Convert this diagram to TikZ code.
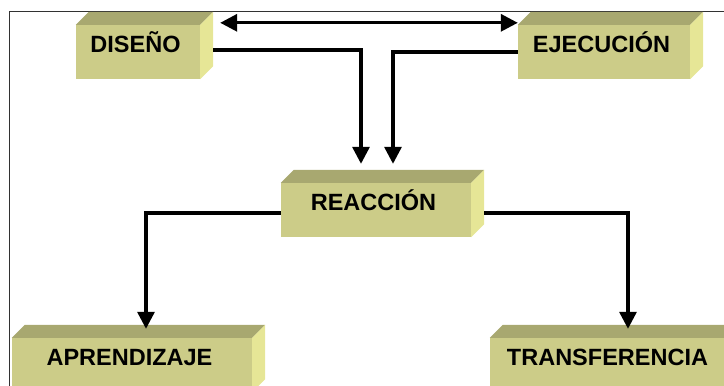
\documentclass[tikz,border=0pt]{standalone}
\usepackage{fontspec}
\setmainfont{Liberation Sans}
\usepackage{tikz}
\usetikzlibrary{positioning}
\usetikzlibrary{arrows.meta}
\usetikzlibrary{calc}
\definecolor{cajafrente}{RGB}{204,204,136}
\definecolor{cajatapa}{RGB}{168,168,112}
\definecolor{cajalado}{RGB}{230,230,150}
\definecolor{marco}{RGB}{50,50,50}

\begin{document}
\begin{tikzpicture}[x=1pt,y=-1pt]
	\useasboundingbox (0,0) rectangle (724,386);
	\clip (0,0) rectangle (724,386);
	\draw[marco, line width=1.5pt] (9.5,400) |- (740,11.5);

	\begin{scope}[every node/.style={fill=cajafrente, inner sep=0pt, minimum height=54pt,
	              text height=27.3pt, text depth=26.7pt,
	              font=\fontsize{23.5}{27}\selectfont\bfseries,
	              execute at begin node={\hspace*{-5pt}}}]
	    \node (dis) [minimum width=124pt] at (138,52) {DISEÑO};
	    \node (eje) [minimum width=172pt] at (604,52) {EJECUCIÓN};
	    \node (rea) [minimum width=190pt] at (376,210) {REACCIÓN};
	    \node (apr) [minimum width=240pt] at (132,365) {APRENDIZAJE};
	    \node (tra) [minimum width=240pt] at (610,365) {TRANSFERENCIA};
	\end{scope}

	% caras de arriba y del lado
	\foreach \n in {dis,eje,rea,apr,tra} {
	    \fill[cajatapa] (\n.north west) -- (\n.north east) -- ++(13,-13)
	        -- ([shift={(13,-13)}]\n.north west) -- cycle;
	    \fill[cajalado] (\n.north east) -- (\n.south east) -- ++(13,-13)
	        -- ([shift={(13,-13)}]\n.north east) -- cycle;
	}

	\begin{scope}[line width=3.2pt, >={Triangle[length=17pt,width=17pt]}]
	    \draw [<->] ([shift={(20,-2)}]dis.north east) -- ([shift={(0,-2)}]eje.north west);
	    \draw [->] ([shift={(13,-2)}]dis.east) -| ([shift={(-15,-19)}]rea.north);
	    \draw [->] (eje.west) -| ([shift={(17,-19)}]rea.north);
	    \draw [->] ([shift={(0,3)}]rea.west) -| ([shift={(14,-9)}]apr.north);
	    \draw [->] ([shift={(13,3)}]rea.east) -| ([shift={(18,-9)}]tra.north);
	\end{scope}
\end{tikzpicture}
\end{document}
